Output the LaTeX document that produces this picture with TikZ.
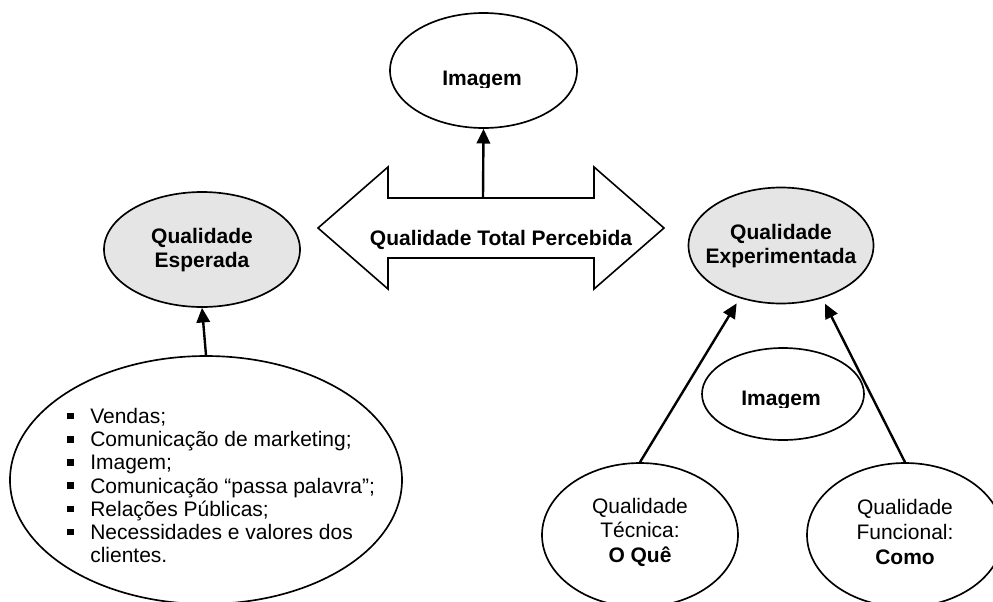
\documentclass[tikz,border=0pt]{standalone}
\usepackage{fontspec}
\setmainfont{Liberation Sans}
\usetikzlibrary{arrows.meta,shapes.geometric}

\definecolor{ovalfill}{gray}{0.9}
% square bullet used in the list of factors
\newcommand\sqbullet{\makebox[18pt][l]{\hspace{0.75pt}\raisebox{3pt}{\rule{5pt}{5pt}}}}

\begin{document}
\begin{tikzpicture}[x=0.75pt,y=-0.75pt,
  txt/.style={font=\fontsize{15.75}{18.4}\selectfont, align=center, inner sep=0pt},
  btxt/.style={txt, font=\fontsize{15.75}{18.4}\selectfont\bfseries},
  oval/.style={draw, ellipse, line width=1.25pt, inner sep=0pt},
  shaded/.style={oval, fill=ovalfill},
  link/.style={line width=1.8pt, -{Triangle[length=11pt,width=10pt]}},
  bigarrow/.style={draw, line width=1.2pt, fill=white, line join=miter}
]
\useasboundingbox (0,0) rectangle (993,601);
\clip (0,0) rectangle (993,601);

% ---- top: Imagem ----
\node[oval, minimum width=140.25pt, minimum height=86.25pt] (img1) at (483.5,70.5) {};
\begin{scope}
  \clip (420,55) rectangle (545,87.5);
  \node[btxt, anchor=base] (img1T) at (482,85.5) {Imagem};
\end{scope}

% ---- double arrow: Qualidade Total Percebida ----
\draw[bigarrow] (318,228) -- (388,167) -- (388,198) -- (594,198) -- (594,167)
  -- (664,228) -- (594,289) -- (594,258) -- (388,258) -- (388,289) -- cycle;
\coordinate (qtpTop) at (483,198);
\node[btxt, anchor=base] (qtp) at (501,245) {Qualidade Total Percebida};

% ---- Qualidade Esperada ----
\node[shaded, minimum width=147pt, minimum height=86.25pt] (esp) at (202,249.5) {};
\node[btxt] (espT) at (202,250) {Qualidade\\Esperada};

% ---- Qualidade Experimentada ----
\node[shaded, minimum width=138.75pt, minimum height=87pt] (exp) at (781,245.5) {};
\node[btxt] (expT) at (781,246) {Qualidade\\Experimentada};

% ---- factors behind the expected quality ----
\node[oval, minimum width=294pt, minimum height=186pt] (list) at (206,480) {};
\node[txt, align=left, anchor=north west, font=\fontsize{15.75}{17.4}\selectfont]
  (listT) at (66,408) {%
  \sqbullet Vendas;\\
  \sqbullet Comunicação de marketing;\\
  \sqbullet Imagem;\\
  \sqbullet Comunicação “passa palavra”;\\
  \sqbullet Relações Públicas;\\
  \sqbullet Necessidades e valores dos\\
  \hspace{18pt}clientes.};

% ---- Imagem (experienced side) ----
\node[oval, minimum width=121.5pt, minimum height=69pt] (img2) at (783,394) {};
\begin{scope}
  \clip (720,380) rectangle (845,407);
  \node[btxt, anchor=base] (img2T) at (781,405) {Imagem};
\end{scope}

% ---- technical and functional quality ----
\node[oval, minimum width=147pt, minimum height=108pt] (tec) at (640,535) {};
\node[txt] (tecT) at (640,532) {Qualidade\\Técnica:\\\textbf{O Quê}};
\node[oval, minimum width=147pt, minimum height=108pt] (fun) at (905,535) {};
\node[txt] (funT) at (905,532) {Qualidade\\Funcional:\\\textbf{Como}};

% ---- connectors ----
\draw[link] (qtpTop) -- (img1.south);
\draw[link] (list.north) -- (esp.south);
\draw[link, shorten >=4.5pt] (tec.north) -- (exp.232);
\draw[link, shorten >=4.5pt] (fun.north) -- (exp.308);
\end{tikzpicture}
\end{document}
